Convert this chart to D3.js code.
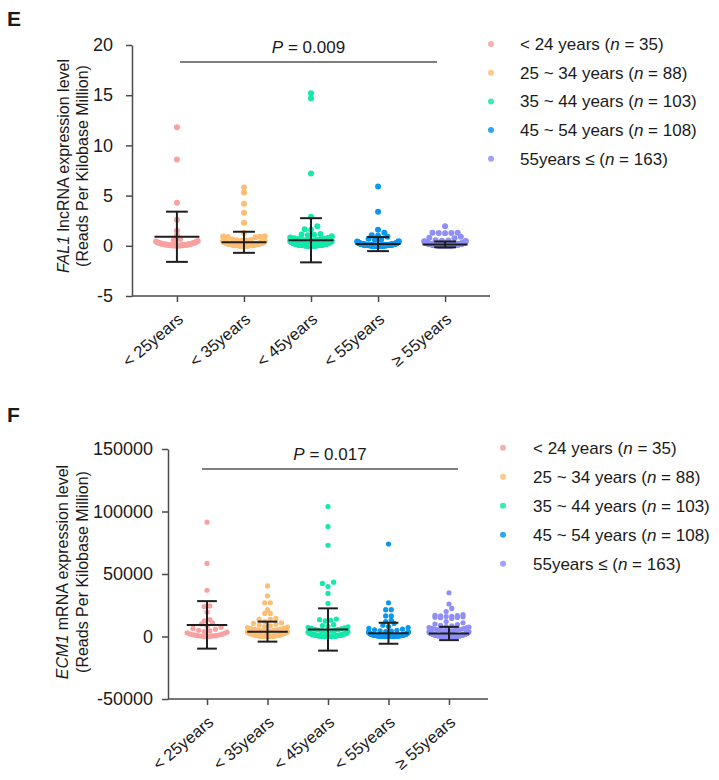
<!DOCTYPE html>
<html><head><meta charset="utf-8">
<script src="https://cdn.jsdelivr.net/npm/d3@7"></script>
<style>
body{margin:0;background:#fff}
svg{display:block}
text{font-family:"Liberation Sans",Arial,Helvetica,sans-serif;fill:#1a1a1a}
</style>
</head><body>
<svg id="chart" width="719" height="780"></svg>
<script>
// ---------- DATA ----------
const categories = ["< 25years", "< 35years", "< 45years", "< 55years", "≥ 55years"];
const legendGroups = ["< 24 years", "25 ~ 34 years", "35 ~ 44 years", "45 ~ 54 years", "55years ≤"];
const groupN = [35, 88, 103, 108, 163];
const colors = ["#F9A1A1", "#FDBE74", "#14E8AA", "#0A97F2", "#8F8FF7"];

const eTicks = [-5, 0, 5, 10, 15, 20];
const fTicks = [-50000, 0, 50000, 100000, 150000];
const ePValue = "0.009";
const fPValue = "0.017";

// Panel E: FAL1 lncRNA (RPKM) – mean and SD
const eMean = [0.9, 0.35, 0.55, 0.17, 0.14];
const eSD = [2.5, 1.05, 2.2, 0.7, 0.29];

const eG1 = [11.8, 8.6, 4.3, 2.6, 1.5, 1.0, 0.68, 0.55, 0.48, 0.42, 0.37, 0.33, 0.3, 0.28, 0.25, 0.22, 0.2, 0.19, 0.17, 0.15, 0.14, 0.12, 0.11, 0.1, 0.09, 0.08, 0.07, 0.06, 0.05, 0.05, 0.04, 0.03, 0.02, 0.02, 0.01];
const eG2 = [5.8, 5.3, 4.2, 3.3, 2.3, 1.3, 0.95, 0.92, 0.9, 0.88, 0.85,
  0.62, 0.58, 0.55, 0.52, 0.5, 0.48, 0.46, 0.44, 0.42, 0.4,
  0.38, 0.36, 0.35, 0.34, 0.32, 0.31, 0.3, 0.29, 0.28, 0.27,
  0.26, 0.25, 0.24, 0.23, 0.22, 0.21, 0.2, 0.2, 0.19, 0.18,
  0.18, 0.17, 0.16, 0.16, 0.15, 0.15, 0.14, 0.14, 0.13, 0.13,
  0.12, 0.12, 0.11, 0.11, 0.1, 0.1, 0.09, 0.09, 0.09, 0.08,
  0.08, 0.08, 0.07, 0.07, 0.07, 0.06, 0.06, 0.06, 0.05, 0.05,
  0.05, 0.05, 0.04, 0.04, 0.04, 0.04, 0.03, 0.03, 0.03, 0.03,
  0.02, 0.02, 0.02, 0.01, 0.01, 0.01, 0.0];
const eG3 = [15.2, 14.7, 7.2, 2.9, 1.95, 1.65, 1.6, 1.17, 1.12, 1.1, 1.05, 0.95,
  0.82, 0.78, 0.74, 0.7, 0.67, 0.64, 0.61, 0.58, 0.55, 0.52,
  0.5, 0.48, 0.46, 0.44, 0.42, 0.4, 0.38, 0.37, 0.36, 0.34,
  0.33, 0.32, 0.3, 0.29, 0.28, 0.27, 0.26, 0.25, 0.24, 0.23,
  0.22, 0.21, 0.2, 0.2, 0.19, 0.18, 0.18, 0.17, 0.16, 0.16,
  0.15, 0.15, 0.14, 0.14, 0.13, 0.13, 0.12, 0.12, 0.11, 0.11,
  0.1, 0.1, 0.1, 0.09, 0.09, 0.09, 0.08, 0.08, 0.08, 0.07,
  0.07, 0.07, 0.06, 0.06, 0.06, 0.06, 0.05, 0.05, 0.05, 0.05,
  0.04, 0.04, 0.04, 0.04, 0.03, 0.03, 0.03, 0.03, 0.02, 0.02,
  0.02, 0.02, 0.02, 0.01, 0.01, 0.01, 0.01, 0.0, 0.0, 0.0, 0.0];
const eG4 = [5.9, 3.4, 1.6, 1.3, 1.05, 1.0, 0.9, 0.7, 0.62, 0.6,
  0.45, 0.42, 0.4, 0.38, 0.36, 0.34, 0.32, 0.3, 0.29, 0.28,
  0.27, 0.26, 0.25, 0.24, 0.23, 0.22, 0.21, 0.2, 0.2, 0.19,
  0.19, 0.18, 0.18, 0.17, 0.17, 0.16, 0.16, 0.15, 0.15, 0.14,
  0.14, 0.13, 0.13, 0.13, 0.12, 0.12, 0.12, 0.11, 0.11, 0.11,
  0.1, 0.1, 0.1, 0.1, 0.09, 0.09, 0.09, 0.09, 0.08, 0.08,
  0.08, 0.08, 0.07, 0.07, 0.07, 0.07, 0.06, 0.06, 0.06, 0.06,
  0.05, 0.05, 0.05, 0.05, 0.05, 0.04, 0.04, 0.04, 0.04, 0.04,
  0.03, 0.03, 0.03, 0.03, 0.03, 0.02, 0.02, 0.02, 0.02, 0.02,
  0.02, 0.01, 0.01, 0.01, 0.01, 0.01, 0.01, 0.01, 0.0, 0.0,
  0.0, 0.0, 0.0, 0.0, 0.0, 0.0, 0.0, 0.0];
const eG5 = [1.95, 1.3, 1.3, 1.28, 1.27, 1.25, 0.9, 0.8, 0.75,
  0.55, 0.52, 0.5, 0.48, 0.46, 0.44, 0.42, 0.4, 0.39, 0.38,
  0.37, 0.36, 0.35, 0.34, 0.33, 0.32, 0.31, 0.3, 0.3, 0.29,
  0.29, 0.28, 0.28, 0.27, 0.27, 0.26, 0.26, 0.25, 0.25, 0.24,
  0.24, 0.23, 0.23, 0.22, 0.22, 0.22, 0.21, 0.21, 0.21, 0.2,
  0.2, 0.2, 0.19, 0.19, 0.19, 0.18, 0.18, 0.18, 0.17, 0.17,
  0.17, 0.16, 0.16, 0.16, 0.16, 0.15, 0.15, 0.15, 0.15, 0.14,
  0.14, 0.14, 0.14, 0.13, 0.13, 0.13, 0.13, 0.12, 0.12, 0.12,
  0.12, 0.11, 0.11, 0.11, 0.11, 0.1, 0.1, 0.1, 0.1, 0.1,
  0.09, 0.09, 0.09, 0.09, 0.09, 0.08, 0.08, 0.08, 0.08, 0.08,
  0.07, 0.07, 0.07, 0.07, 0.07, 0.06, 0.06, 0.06, 0.06, 0.06,
  0.05, 0.05, 0.05, 0.05, 0.05, 0.05, 0.04, 0.04, 0.04, 0.04,
  0.04, 0.04, 0.03, 0.03, 0.03, 0.03, 0.03, 0.03, 0.03, 0.02,
  0.02, 0.02, 0.02, 0.02, 0.02, 0.02, 0.02, 0.01, 0.01, 0.01,
  0.01, 0.01, 0.01, 0.01, 0.01, 0.01, 0.0, 0.0, 0.0, 0.0,
  0.0, 0.0, 0.0, 0.0, 0.0, 0.0, 0.0, 0.0, 0.0, 0.0,
  0.0, 0.0, 0.0, 0.0];

// Panel F: ECM1 mRNA (RPKM)
const fMean = [9300, 3900, 5600, 2600, 2400];
const fSD = [19000, 8000, 16900, 8400, 5300];

const fG1 = [91500, 58500, 37000, 24500, 24000, 19500, 13500, 12500, 11000,
  10000, 8500, 7500, 6500, 5800, 5000, 4500, 4000, 3500, 3000,
  2600, 2200, 1900, 1600, 1400, 1200, 1000, 850, 700, 550,
  450, 350, 250, 150, 100, 50];
const fG2 = [40500, 32500, 27000, 27000, 21500, 18500, 18500, 14500, 13700, 13700,
  12000, 11000, 10500, 9800, 9200, 8600, 8000, 7600, 7200, 6800,
  6400, 6000, 5700, 5400, 5100, 4800, 4500, 4300, 4100, 3900,
  3700, 3500, 3300, 3100, 2900, 2800, 2700, 2600, 2500, 2400,
  2300, 2200, 2100, 2000, 1900, 1800, 1700, 1600, 1500, 1450,
  1400, 1300, 1250, 1200, 1100, 1050, 1000, 950, 900, 850,
  800, 750, 700, 650, 600, 560, 520, 480, 440, 400,
  370, 340, 310, 280, 250, 220, 200, 180, 160, 140,
  120, 100, 80, 60, 50, 40, 30, 20];
const fG3 = [104000, 88000, 73000, 43500, 42500, 40000, 34500, 26500, 14000, 13500, 13000, 12500, 7000, 6500,
  9500, 8800, 8200, 7800, 7400, 6200, 5800, 5500, 5200, 4900,
  4600, 4400, 4200, 4000, 3800, 3600, 3400, 3200, 3000, 2900,
  2800, 2700, 2600, 2500, 2400, 2300, 2200, 2100, 2000, 1900,
  1850, 1800, 1700, 1650, 1600, 1500, 1450, 1400, 1350, 1300,
  1250, 1200, 1150, 1100, 1050, 1000, 960, 920, 880, 840,
  800, 760, 720, 680, 640, 600, 570, 540, 510, 480,
  450, 420, 390, 360, 340, 320, 300, 280, 260, 240,
  220, 200, 180, 160, 150, 140, 130, 120, 110, 100,
  90, 80, 70, 60, 50, 40, 30, 20, 10];
const fG4 = [74000, 27000, 21500, 21500, 16500, 16500, 13000, 12000, 10500,
  9000, 8000, 7200, 6500, 5900, 5400, 5000, 4600, 4300, 4000,
  3700, 3500, 3300, 3100, 2900, 2750, 2600, 2450, 2300, 2200,
  2100, 2000, 1900, 1800, 1700, 1650, 1600, 1550, 1500, 1450,
  1400, 1350, 1300, 1250, 1200, 1150, 1100, 1050, 1000, 970,
  940, 910, 880, 850, 820, 790, 760, 730, 700, 680,
  660, 640, 620, 600, 580, 560, 540, 520, 500, 480,
  460, 440, 420, 400, 380, 360, 340, 320, 300, 285,
  270, 255, 240, 225, 210, 195, 180, 165, 150, 140,
  130, 120, 110, 100, 90, 80, 70, 60, 50, 45,
  40, 35, 30, 25, 20, 15, 10, 5, 0];
const fG5 = [35000, 26000, 22500, 20000, 17500, 17000, 16800, 16500, 16200, 16000, 15800, 15500, 15200, 15000, 14500, 12000, 11000, 10000, 9500, 9000, 8500,
  8000, 7600, 7200, 6900, 6600, 6300, 6000, 5800, 5600, 5400,
  5200, 5000, 4800, 4600, 4400, 4250, 4100, 3950, 3800, 3650,
  3500, 3400, 3300, 3200, 3100, 3000, 2900, 2800, 2700, 2600,
  2500, 2450, 2400, 2350, 2300, 2250, 2200, 2150, 2100, 2050,
  2000, 1950, 1900, 1850, 1800, 1750, 1700, 1650, 1600, 1550,
  1500, 1460, 1420, 1380, 1340, 1300, 1260, 1220, 1180, 1140,
  1100, 1070, 1040, 1010, 980, 950, 920, 890, 860, 830,
  800, 780, 760, 740, 720, 700, 680, 660, 640, 620,
  600, 580, 560, 540, 520, 500, 485, 470, 455, 440,
  425, 410, 395, 380, 365, 350, 335, 320, 305, 290,
  275, 260, 250, 240, 230, 220, 210, 200, 190, 180,
  170, 160, 150, 140, 130, 120, 110, 100, 95, 90,
  85, 80, 75, 70, 65, 60, 55, 50, 45, 40,
  35, 30, 25, 20, 15, 10, 8, 6, 4, 2,
  1, 0];

const eGroups = [eG1, eG2, eG3, eG4, eG5];
const fGroups = [fG1, fG2, fG3, fG4, fG5];

// ---------- DRAWING ----------
const svg = d3.select("#chart");
const FONT = '"Liberation Sans",Arial,Helvetica,sans-serif';
const AXIS_COL = "#4a4a4a";

function swarm(values, cx, y, binH, spacing, maxHalf) {
  const y0 = y(0);
  const pts = values.map(v => ({ v, py: y(v) }));
  const bins = d3.group(pts, p => Math.floor((y0 - p.py + 0.01) / binH));
  const out = [];
  for (const [, arr] of bins) {
    arr.sort((a, b) => a.v - b.v);
    const k = arr.length;
    const s = k > 1 ? Math.min(spacing, 2 * maxHalf / (k - 1)) : 0;
    const offs = d3.range(k).map(m => (m - (k - 1) / 2) * s);
    offs.sort((a, b) => Math.abs(a) - Math.abs(b) || a - b);
    arr.forEach((p, i) => out.push({ v: p.v, px: cx + offs[i], py: p.py }));
  }
  return out;
}

function drawPanel(P) {
  const g = svg.append("g");
  const x = d3.scalePoint().domain(categories).range([P.ax0, P.ax1]).padding(P.pad);
  const y = d3.scaleLinear().domain(P.domain).range([P.yBot, P.yTop]);
  const step = x.step();

  // panel letter
  g.append("text").attr("x", 7).attr("y", P.letterY)
    .attr("font-size", 21).attr("font-weight", "bold").attr("fill", "#111").text(P.letter);

  // y axis
  const ya = g.append("g").attr("transform", `translate(${P.ax0},0)`)
    .call(d3.axisLeft(y).tickValues(P.ticks).tickSize(6).tickSizeOuter(0)
      .tickPadding(P.tickPad).tickFormat(d => String(d)));
  ya.attr("font-size", 18).attr("font-family", FONT);
  ya.select(".domain").attr("stroke", AXIS_COL).attr("stroke-width", 1.5);
  ya.selectAll(".tick line").attr("stroke", AXIS_COL).attr("stroke-width", 1.5);
  ya.selectAll(".tick text").attr("fill", "#1a1a1a");

  // x axis
  const xa = g.append("g").attr("transform", `translate(0,${P.yBot})`)
    .call(d3.axisBottom(x).tickSize(6).tickSizeOuter(0));
  xa.attr("font-size", 16.5).attr("font-family", FONT);
  xa.select(".domain").attr("stroke", AXIS_COL).attr("stroke-width", 1.5)
    .attr("d", `M${P.ax0},0H${P.ax1}`);
  xa.selectAll(".tick line").attr("stroke", AXIS_COL).attr("stroke-width", 1.5);
  xa.selectAll(".tick text").attr("fill", "#1a1a1a")
    .attr("x", 0).attr("y", 0).attr("dy", 0)
    .attr("text-anchor", "end")
    .attr("transform", `translate(${P.lblDx},${P.lblDy}) rotate(${P.lblRot})`);

  // y-axis title
  const tt = g.append("g").attr("transform", `translate(0,${P.titleCY})`);
  const t1 = tt.append("text").attr("transform", `translate(${P.titleX[0]},0) rotate(-90)`)
    .attr("text-anchor", "middle").attr("font-size", 16);
  t1.append("tspan").attr("font-style", "italic").text(P.gene);
  t1.append("tspan").text(P.titleRest);
  tt.append("text").attr("transform", `translate(${P.titleX[1]},0) rotate(-90)`)
    .attr("text-anchor", "middle").attr("font-size", 16).text("(Reads Per Kilobase Million)");

  // P-value bar
  const px1 = x(categories[0]) + P.pOff[0], px2 = x(categories[4]) + P.pOff[1];
  g.append("line").attr("x1", px1).attr("x2", px2).attr("y1", P.pLineY).attr("y2", P.pLineY)
    .attr("stroke", "#555").attr("stroke-width", 1.5);
  const pt = g.append("text").attr("x", (px1 + px2) / 2 + P.pTextDx).attr("y", P.pTextY)
    .attr("text-anchor", "middle").attr("font-size", 17);
  pt.append("tspan").attr("font-style", "italic").text("P");
  pt.append("tspan").text(" = " + P.pValue);

  // dots
  P.groups.forEach((vals, i) => {
    const cx = x(categories[i]);
    const pts = swarm(vals, cx, y, P.binH, P.spacing, step * P.halfFrac);
    g.append("g").selectAll("circle").data(pts).join("circle")
      .attr("cx", d => d.px).attr("cy", d => d.py).attr("r", P.r)
      .attr("fill", colors[i]);
  });

  // mean ± SD
  P.mean.forEach((m, i) => {
    const cx = x(categories[i]);
    const s = P.sd[i];
    const mh = step * 0.335, ch = step * 0.163;
    const gg = g.append("g").attr("stroke", "#1e1e1e").attr("stroke-width", 2);
    gg.append("line").attr("x1", cx - mh).attr("x2", cx + mh).attr("y1", y(m)).attr("y2", y(m));
    gg.append("line").attr("x1", cx).attr("x2", cx).attr("y1", y(m - s)).attr("y2", y(m + s));
    gg.append("line").attr("x1", cx - ch).attr("x2", cx + ch).attr("y1", y(m + s)).attr("y2", y(m + s));
    gg.append("line").attr("x1", cx - ch).attr("x2", cx + ch).attr("y1", y(m - s)).attr("y2", y(m - s));
  });

  // legend
  const lg = g.append("g");
  legendGroups.forEach((lab, i) => {
    const ly = P.legY0 + i * P.legDy;
    lg.append("circle").attr("cx", P.legX).attr("cy", ly).attr("r", 3)
      .attr("fill", colors[i]).attr("opacity", 0.85);
    const t = lg.append("text").attr("x", P.legTextX).attr("y", ly + 6).attr("font-size", 17);
    t.append("tspan").text(lab + " (");
    t.append("tspan").attr("font-style", "italic").text("n");
    t.append("tspan").text(" = " + groupN[i] + ")");
  });
}

drawPanel({
  letter: "E", letterY: 26,
  ax0: 132, ax1: 490, pad: 0.67, yTop: 45, yBot: 296, domain: [-5, 20], ticks: eTicks, tickPad: 13,
  lblDx: 7, lblDy: 25, lblRot: -40,
  titleX: [69, 88], titleCY: 166, gene: "FAL1", titleRest: " lncRNA expression level",
  pOff: [3, -8], pLineY: 62, pTextY: 53, pTextDx: 0, pValue: ePValue,
  groups: eGroups, mean: eMean, sd: eSD, r: 3, binH: 5, spacing: 6.3, halfFrac: 0.31,
  legX: 491, legTextX: 520, legY0: 44, legDy: 28.7
});

drawPanel({
  letter: "F", letterY: 422,
  ax0: 168, ax1: 488, pad: 0.645, yTop: 449, yBot: 699, domain: [-50000, 150000], ticks: fTicks, tickPad: 9,
  lblDx: 7, lblDy: 25, lblRot: -40,
  titleX: [68, 88], titleCY: 572, gene: "ECM1", titleRest: " mRNA expression level",
  pOff: [-5, 9], pLineY: 469, pTextY: 460, pTextDx: 0, pValue: fPValue,
  groups: fGroups, mean: fMean, sd: fSD, r: 2.6, binH: 5, spacing: 5.6, halfFrac: 0.33,
  legX: 503, legTextX: 533, legY0: 447.7, legDy: 29
});
</script>
</body></html>
